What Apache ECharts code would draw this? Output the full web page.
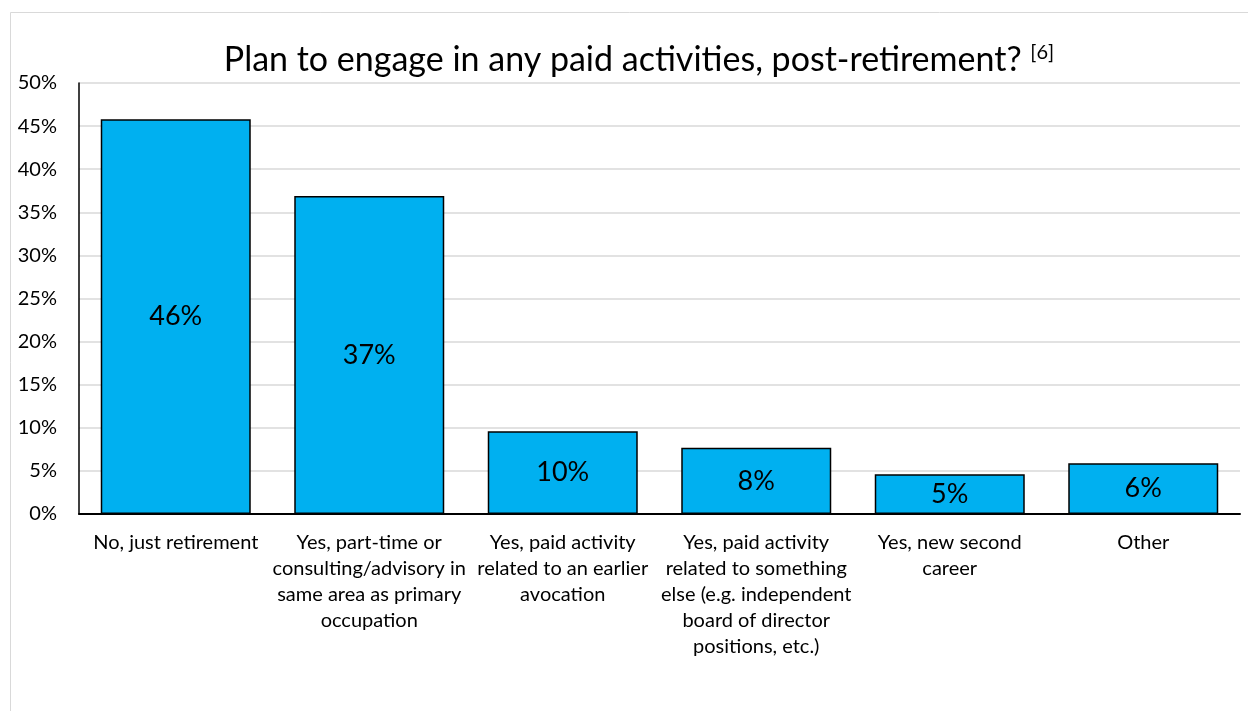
<!DOCTYPE html>
<html><head><meta charset="utf-8">
<script src="https://cdn.jsdelivr.net/npm/echarts@6/dist/echarts.min.js"></script>
<style>html,body{margin:0;padding:0;background:#fff}#c{width:1248px;height:711px}</style>
</head><body><div id="c"></div>
<script>
const categories = [
  "No, just retirement",
  "Yes, part-time or\nconsulting/advisory in\nsame area as primary\noccupation",
  "Yes, paid activity\nrelated to an earlier\navocation",
  "Yes, paid activity\nrelated to something\nelse (e.g. independent\nboard of director\npositions, etc.)",
  "Yes, new second\ncareer",
  "Other"
];
const values = [45.8, 36.9, 9.6, 7.7, 4.6, 5.9];
const yTicks = [0, 5, 10, 15, 20, 25, 30, 35, 40, 45, 50];

const font = "Lato, 'Open Sans', sans-serif";
const chart = echarts.init(document.getElementById('c'), null, {renderer: 'canvas'});
chart.setOption({
  animation: false,
  graphic: [{
    type: 'rect', silent: true, z: -10,
    shape: {x: 10.5, y: 12.5, width: 1300, height: 800},
    style: {fill: '#fff', stroke: '#d9d9d9', lineWidth: 1}
  }],
  title: {
    text: '{t|Plan to engage in any paid activities, post-retirement? }{s|[6]}',
    left: 634, top: 38, textAlign: 'center',
    textStyle: {
      fontWeight: 'normal',
      rich: {
        t: {fontFamily: font, fontSize: 34, fontWeight: 'normal', color: '#000', verticalAlign: 'bottom'},
        s: {fontFamily: font, fontSize: 20, fontWeight: 'normal', color: '#000', verticalAlign: 'top', padding: [0, 0, 14, 0]}
      }
    }
  },
  grid: {left: 79, right: 8, top: 83, bottom: 197, containLabel: false},
  xAxis: {
    type: 'category', data: categories,
    axisLine: {lineStyle: {color: '#000', width: 2}},
    axisTick: {show: false},
    axisLabel: {fontFamily: font, fontSize: 20, color: '#000', lineHeight: 26, interval: 0, margin: 16, align: 'center'}
  },
  yAxis: {
    type: 'value', min: 0, max: 50, interval: 5,
    axisLine: {show: true, lineStyle: {color: '#000', width: 1.5}},
    axisTick: {show: false},
    splitLine: {lineStyle: {color: '#d9d9d9', width: 1.5}},
    axisLabel: {fontFamily: font, fontSize: 20, color: '#000', margin: 22,
      formatter: v => yTicks.includes(v) ? v + '%' : ''}
  },
  series: [{
    type: 'bar', data: values, barWidth: 150,
    itemStyle: {color: '#00B0F0', borderColor: '#000', borderWidth: 1.5},
    label: {show: true, position: 'inside', fontFamily: font, fontSize: 27, color: '#000',
      formatter: p => Math.round(p.value) + '%'}
  }]
});
</script></body></html>
